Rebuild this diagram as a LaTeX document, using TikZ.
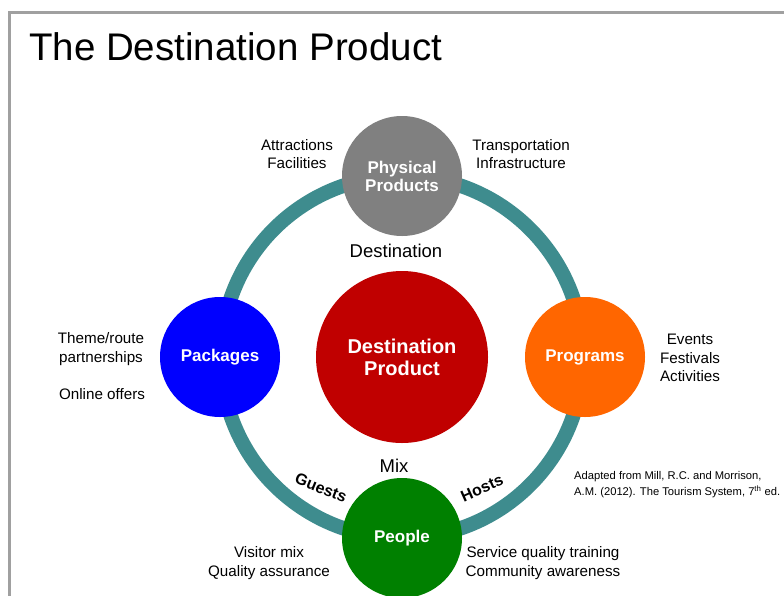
\documentclass[tikz,border=0pt]{standalone}
\usepackage{fontspec}
\setmainfont{Liberation Sans}
\definecolor{ringteal}{RGB}{62,140,142}
\definecolor{physgray}{RGB}{128,128,128}
\definecolor{pkgblue}{RGB}{0,0,255}
\definecolor{progorange}{RGB}{255,102,0}
\definecolor{peoplegreen}{RGB}{0,128,0}
\definecolor{destred}{RGB}{192,0,0}
\definecolor{framegray}{RGB}{160,160,160}
\begin{document}
\begin{tikzpicture}[x=1pt,y=-1pt,
  bubble/.style={circle,minimum size=120pt,inner sep=0pt,text=white,align=center,
    font=\fontsize{17}{20}\selectfont\bfseries},
  lab/.style={align=center,inner sep=0pt,font=\fontsize{15.2}{18.5}\selectfont},
  ringlab/.style={inner sep=0pt,font=\fontsize{16}{18}\selectfont\bfseries}]
\useasboundingbox (0,0) rectangle (784,595);
\fill[white] (0,0) rectangle (784,595);
% frame
\draw[framegray,line width=2.5pt] (9.5,600) -- (9.5,12.5) -- (790,12.5);
% title
\node[anchor=west,inner sep=0pt,font=\fontsize{38.5}{44}\selectfont] (title) at (29,47) {The Destination Product};
% ring
\node[circle,draw=ringteal,line width=14.5pt,minimum size=362pt,inner sep=0pt] (ring) at (402,357) {};
% bubbles
\node[bubble,fill=physgray] (phys) at (402,176) {Physical\\[-2pt]Products};
\node[bubble,fill=pkgblue] (pkg) at (220,357) {Packages};
\node[bubble,fill=progorange] (prog) at (585,357) {Programs};
\node[bubble,fill=peoplegreen] (people) at (402,538) {People};
\node[circle,fill=destred,minimum size=172pt,inner sep=0pt,text=white,align=center,
  font=\fontsize{20}{22}\selectfont\bfseries] (dest) at (402,357) {Destination\\Product};
% inner labels
\node[inner sep=0pt,font=\fontsize{18.5}{22}\selectfont] (destlab) at (396,251) {Destination};
\node[inner sep=0pt,font=\fontsize{18.5}{22}\selectfont] (mixlab) at (394,466) {Mix};
% ring labels
\node[ringlab,rotate=-22] (guests) at (321,488) {Guests};
\node[ringlab,rotate=24] (hosts) at (482,488) {Hosts};
% outer labels
\node[lab] (attr) at (297,154) {Attractions\\Facilities};
\node[lab] (trans) at (521,154) {Transportation\\Infrastructure};
\node[lab] (theme) at (101,349) {Theme/route\\partnerships};
\node[lab] (online) at (102,394) {Online offers};
\node[lab] (events) at (690,358) {Events\\Festivals\\Activities};
\node[lab] (visitor) at (269,563) {Visitor mix\\Quality assurance};
\node[lab] (service) at (543,563) {Service quality training\\Community awareness};
% citation
\node[anchor=west,align=left,inner sep=0pt,font=\fontsize{11.2}{16}\selectfont] (cite) at (574,485)
  {Adapted from Mill, R.C. and Morrison,\\A.M. (2012). The Tourism System, 7\textsuperscript{th} ed.};
\end{tikzpicture}
\end{document}
